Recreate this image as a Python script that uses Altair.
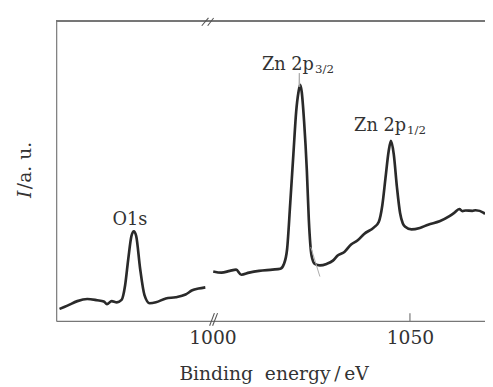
import altair as alt
import pandas as pd

# ---- data ----
# Left segment (O 1s region), binding energy in eV and intensity (a.u.)
o1s_energy = [512.2, 514.2, 516.7, 519.2, 521.7, 523.4, 524.2, 525.4, 526.7, 527.9,
              528.8, 529.6, 530.4, 531.0, 531.6, 532.6, 533.7, 535.0, 536.6, 539.1,
              541.6, 544.1, 545.8, 547.4, 549.1]
o1s_intensity = [4.0, 5.1, 6.6, 7.3, 6.9, 6.5, 5.6, 6.6, 6.2, 7.0,
                 11.9, 20.7, 28.3, 29.9, 28.3, 17.4, 8.6, 5.9, 6.2, 7.5,
                 7.9, 8.8, 10.2, 10.8, 11.2]
# shift that places the O 1s segment left of the axis break
break_shift = 449.1

# Right segment (Zn 2p region)
zn_energy = [1000.2, 1002.3, 1004.4, 1006.0, 1007.3, 1009.3, 1011.8, 1015.2, 1017.2, 1018.1,
             1018.9, 1019.7, 1020.5, 1021.2, 1021.8, 1022.2, 1022.6, 1023.2, 1023.9, 1024.4,
             1025.1, 1025.9, 1027.2, 1028.9, 1030.5, 1031.7, 1033.4, 1035.1, 1036.7, 1038.4,
             1040.9, 1042.1, 1043.0, 1043.8, 1044.6, 1045.2, 1045.9, 1046.7, 1047.5, 1048.2,
             1048.8, 1050.4, 1052.5, 1054.6, 1057.5, 1060.0, 1061.2, 1062.5, 1063.3, 1064.1,
             1065.8, 1066.6, 1068.7, 1069.0]
zn_intensity = [16.5, 16.1, 16.7, 17.1, 15.4, 16.1, 16.7, 17.1, 17.4, 19.0,
                23.9, 39.3, 55.7, 69.8, 76.4, 78.7, 76.4, 66.6, 50.2, 33.8,
                21.7, 19.0, 18.5, 19.0, 20.1, 21.8, 23.0, 25.5, 26.8, 29.0,
                31.2, 33.0, 38.5, 47.5, 56.5, 60.0, 55.6, 44.7, 36.0, 32.5,
                31.4, 30.5, 31.0, 32.1, 33.2, 34.9, 36.0, 37.3, 36.6, 36.8,
                36.7, 36.9, 36.0, 35.6]

# faint fitted-curve traces
fit_energy = [1024.9, 1027.2, 1021.9, 1022.0, 1022.1]
fit_intensity = [24.6, 14.8, 78.0, 82.6, 78.0]
fit_group = ["tail", "tail", "tip", "tip", "tip"]

# peak labels
label_main = ["Zn 2p", "Zn 2p"]
label_sub = ["3/2", "1/2"]
label_x = [1025.7, 1049.0]
label_y = [83.6, 63.3]
sub_y = [82.6, 62.3]

o1s_label = ["O1s"]
o1s_label_energy = [530.0]
o1s_label_y = [32.1]

x_ticks = [1000, 1050]
x_domain = [960.45, 1069.0]
y_domain = [0, 100]

# axis-break slashes (axis units)
brk_x = [997.3, 998.8, 999.3, 1000.05]
brk_x2 = [999.0, 1000.3, 1000.5, 1001.3]
brk_y = [98.4, 98.4, -1.6, -1.6]
brk_y2 = [101.0, 101.0, 2.6, 2.6]

tick_x = [1050]
tick_y = [0]
tick_y2 = [2.6]

# ---- build tables ----
curve = pd.DataFrame({
    "x": [e + break_shift for e in o1s_energy] + zn_energy,
    "y": o1s_intensity + zn_intensity,
    "seg": ["O1s"] * len(o1s_energy) + ["Zn"] * len(zn_energy),
})
fit = pd.DataFrame({"x": fit_energy, "y": fit_intensity, "g": fit_group})
labels = pd.DataFrame({"main": label_main, "sub": label_sub, "x": label_x,
                       "y": label_y, "sy": sub_y})
olab = pd.DataFrame({"t": o1s_label, "x": [e + break_shift for e in o1s_label_energy],
                     "y": o1s_label_y})
brk = pd.DataFrame({"x": brk_x, "x2": brk_x2, "y": brk_y, "y2": brk_y2})
ticks = pd.DataFrame({"x": tick_x, "y": tick_y, "y2": tick_y2})

FONT = "DejaVu Serif"
AX = "#777777"
INK = "#333333"

xs = alt.Scale(domain=x_domain, nice=False, zero=False)
ys = alt.Scale(domain=y_domain, nice=False, zero=False)

xaxis = alt.Axis(values=x_ticks, ticks=False, tickSize=0, grid=False, domainColor=AX,
                 domainWidth=1.2, labelFont=FONT, labelFontSize=19, labelColor=INK,
                 labelPadding=8, title="Binding\u00a0\u00a0energy\u2009/\u2009eV",
                 titleFont=FONT, titleFontSize=19, titleFontWeight="normal",
                 titleColor=INK, titleX=221, titleY=60, titleBaseline="alphabetic",
                 format="d")
yaxis = alt.Axis(ticks=False, labels=False, grid=False, domainColor=AX,
                 domainWidth=1.2, title=None)

line = alt.Chart(curve).mark_line(color="#2a2a2a", strokeWidth=2.7, strokeJoin="round",
                                  interpolate="monotone").encode(
    x=alt.X("x:Q", scale=xs, axis=xaxis),
    y=alt.Y("y:Q", scale=ys, axis=yaxis),
    detail="seg:N",
)
fitline = alt.Chart(fit).mark_line(color="#aaaaaa", strokeWidth=1).encode(
    x=alt.X("x:Q", scale=xs), y=alt.Y("y:Q", scale=ys), detail="g:N")

top = alt.Chart(curve).mark_rule(color=AX, strokeWidth=1.2).encode(y=alt.value(0))

breaks = alt.Chart(brk).mark_rule(color="#555555", strokeWidth=1.1).encode(
    x=alt.X("x:Q", scale=xs), x2="x2:Q", y=alt.Y("y:Q", scale=ys), y2="y2:Q")
tick = alt.Chart(ticks).mark_rule(color=AX, strokeWidth=1.2).encode(
    x=alt.X("x:Q", scale=xs), y=alt.Y("y:Q", scale=ys), y2="y2:Q")

main_txt = alt.Chart(labels).mark_text(font=FONT, fontSize=18, color=INK, align="right",
                                       baseline="alphabetic").encode(
    x=alt.X("x:Q", scale=xs), y=alt.Y("y:Q", scale=ys), text="main:N")
sub_txt = alt.Chart(labels).mark_text(font=FONT, fontSize=12, color=INK, align="left",
                                      baseline="alphabetic", dx=1).encode(
    x=alt.X("x:Q", scale=xs), y=alt.Y("sy:Q", scale=ys), text="sub:N")
o_txt = alt.Chart(olab).mark_text(font=FONT, fontSize=18, color=INK, align="center",
                                  baseline="alphabetic").encode(
    x=alt.X("x:Q", scale=xs), y=alt.Y("y:Q", scale=ys), text="t:N")

ytitle_i = alt.Chart(olab).mark_text(font=FONT, fontSize=19, fontStyle="italic", color=INK,
                                     angle=270, align="left", baseline="middle",
                                     text="I").encode(
    x=alt.value(-32), y=alt.value(180))
ytitle_rest = alt.Chart(olab).mark_text(font=FONT, fontSize=19, color=INK,
                                        angle=270, align="left", baseline="middle",
                                        text="/a.\u00a0u.").encode(
    x=alt.value(-32), y=alt.value(171))

chart = alt.layer(line, fitline, top, breaks, tick, main_txt, sub_txt, o_txt,
                  ytitle_i, ytitle_rest).properties(
    width=436, height=305,
    padding={"left": 49, "top": 10, "right": 0, "bottom": 64},
    autosize=alt.AutoSizeParams(type="none"),
    background="white",
).configure_view(stroke=None)

chart.save("out.html", embed_options={"renderer": "svg", "actions": False})
